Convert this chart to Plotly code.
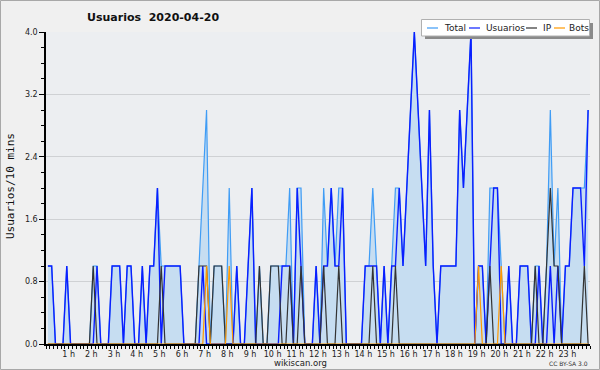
import plotly.graph_objects as go

# 10-minute slots, 0..143
total = [1,1,0,0,0,1, 0,0,0,0,0,0, 1,1,0,0,0,1, 1,1,0,1,1,0,
         0,1,0,1,1,2, 1,1,1,1,1,1, 0,0,0,0,1,2, 3,0,1,1,1,0,
         2,0,1,0,0,1, 2,0,1,0,0,1, 1,1,1,1,2,0, 2,2,0,0,0,1,
         0,2,1,2,1,2, 2,0,0,0,0,0, 1,1,2,1,0,1, 0,1,2,2,1,2,
         3,4,3,2,1,3, 1,0,1,1,1,1, 1,3,2,3,4,0, 1,1,0,2,2,2,
         1,0,1,0,0,1, 1,1,0,1,1,0, 1,3,1,2,0,1, 1,2,2,2,2,3]
usuarios = [1,1,0,0,0,1, 0,0,0,0,0,0, 0,1,0,0,0,1, 1,1,0,1,1,0,
            0,1,0,1,1,2, 0,1,1,1,1,1, 0,0,0,0,0,1, 0,0,0,0,0,0,
            0,0,1,0,0,1, 2,0,0,0,0,0, 0,0,1,1,1,0, 2,1,0,0,0,1,
            0,1,1,2,1,1, 2,0,0,0,0,0, 1,1,1,1,0,1, 0,1,1,2,1,2,
            3,4,3,2,1,3, 1,0,1,1,1,1, 1,3,2,3,4,0, 1,1,0,1,2,2,
            0,0,1,0,0,1, 1,1,0,0,1,0, 0,1,0,1,0,1, 1,2,2,2,1,3]
ip = [0,0,0,0,0,0, 0,0,0,0,0,0, 1,0,0,0,0,0, 0,0,0,0,0,0,
      0,0,0,0,0,0, 1,0,0,0,0,0, 0,0,0,0,1,1, 1,0,1,1,1,0,
      0,0,0,0,0,0, 0,0,1,0,0,1, 1,1,0,0,1,0, 0,1,0,0,0,0,
      0,1,0,0,0,1, 0,0,0,0,0,0, 0,0,1,0,0,0, 0,0,1,0,0,0,
      0,0,0,0,0,0, 0,0,0,0,0,0, 0,0,0,0,0,0, 0,0,0,1,0,0,
      0,0,0,0,0,0, 0,0,0,1,0,0, 1,2,1,1,0,0, 0,0,0,0,1,0]
bots = [0]*144
for k in (42, 48, 114, 120):
    bots[k] = 1

hours = list(range(1, 24))
hour_labels = [f"{h} h" for h in hours]
y_ticks = [0, 0.8, 1.6, 2.4, 3.2, 4.0]
legend_names = ["Total", "Usuarios", "IP", "Bots"]

C_TOTAL = "#3f9cf5"
C_FILL = "#c6ddf1"
C_USER = "#0a1eff"
C_IP = "#333333"
C_BOTS = "#ff9900"

x = list(range(144))
fig = go.Figure()
fig.add_trace(go.Scatter(x=x, y=total, mode="lines", fill="tozeroy",
                         line=dict(color=C_TOTAL, width=1.2), fillcolor=C_FILL,
                         name="Total", hoverinfo="skip"))
fig.add_trace(go.Scatter(x=x, y=usuarios, mode="lines", line=dict(color=C_USER, width=1.4),
                         name="Usuarios"))
fig.add_trace(go.Scatter(x=x, y=ip, mode="lines", line=dict(color=C_IP, width=1.2),
                         name="IP"))
fig.add_trace(go.Scatter(x=x, y=bots, mode="lines", line=dict(color=C_BOTS, width=1.2),
                         name="Bots"))

L, R, T, B = 46, 10, 32, 26
W, H = 600, 370
pw, ph = W - L - R, H - T - B
def px(xp): return (xp - L) / pw
def py(yp): return (H - B - yp) / ph

shapes = []
annotations = []
# outer border
shapes.append(dict(type="rect", xref="paper", yref="paper", x0=px(0.5), x1=px(599.5),
                   y0=py(369.5), y1=py(0.5), line=dict(color="#a8a8a8", width=1),
                   layer="below"))
# legend shadow + box
shapes.append(dict(type="rect", xref="paper", yref="paper", x0=px(425), x1=px(593),
                   y0=py(39), y1=py(23), line=dict(width=0), fillcolor="#8a8a8a"))
shapes.append(dict(type="rect", xref="paper", yref="paper", x0=px(421.5), x1=px(589.5),
                   y0=py(36), y1=py(19.5), line=dict(color="#b0b0b0", width=1),
                   fillcolor="#ffffff"))
leg_items = [(legend_names[0], C_TOTAL, 427, 442), (legend_names[1], C_USER, 469, 484),
             (legend_names[2], C_IP, 526, 541), (legend_names[3], C_BOTS, 554, 567)]
for name, col, lx, tx in leg_items:
    shapes.append(dict(type="line", xref="paper", yref="paper", x0=px(lx), x1=px(lx + 11),
                       y0=py(28), y1=py(28), line=dict(color=col, width=1.2)))
    annotations.append(dict(text=name, xref="paper", yref="paper", x=px(tx), y=py(28),
                            xanchor="left", yanchor="middle", showarrow=False,
                            font=dict(family="DejaVu Sans", size=9, color="#222")))

annotations += [
    dict(text="<b>Usuarios  2020-04-20</b>", xref="paper", yref="paper", x=px(85), y=py(18),
         xanchor="left", yanchor="middle", showarrow=False,
         font=dict(family="DejaVu Sans", size=11, color="#111")),
    dict(text="Usuarios/10 mins", xref="paper", yref="paper", x=px(10), y=py(186),
         xanchor="center", yanchor="middle", textangle=-90, showarrow=False,
         font=dict(family="DejaVu Sans Mono", size=11, color="#111")),
    dict(text="wikiscan.org", xref="paper", yref="paper", x=px(300), y=py(362.5),
         xanchor="center", yanchor="middle", showarrow=False,
         font=dict(family="DejaVu Sans", size=8.5, color="#222")),
    dict(text="CC BY-SA 3.0", xref="paper", yref="paper", x=px(590), y=py(363.5),
         xanchor="right", yanchor="middle", showarrow=False,
         font=dict(family="DejaVu Sans", size=6, color="#333")),
]

fig.update_layout(
    width=W, height=H, margin=dict(l=L, r=R, t=T, b=B),
    paper_bgcolor="#f0f0f0", plot_bgcolor="#eceef1",
    showlegend=False, shapes=shapes, annotations=annotations,
    xaxis=dict(range=[-0.5, 143.5], tickvals=[6 * h - 0.5 for h in hours], ticktext=hour_labels,
               ticks="outside", ticklen=2, tickcolor="#000", showgrid=False, zeroline=False,
               showline=True, linecolor="#000", linewidth=1.5,
               tickfont=dict(family="DejaVu Sans", size=8, color="#222"),
               minor=dict(dtick=1, tick0=-0.5, ticks="outside", ticklen=3, tickcolor="#000",
                          showgrid=False)),
    yaxis=dict(range=[0, 4], tickvals=y_ticks, ticktext=[f"{v:.1f}" for v in y_ticks],
               ticks="outside", ticklen=5, tickcolor="#000", showgrid=True,
               gridcolor="#cfd1d4", gridwidth=1, zeroline=False,
               showline=True, linecolor="#000", linewidth=1.5,
               tickfont=dict(family="DejaVu Sans", size=8, color="#222"),
               minor=dict(dtick=0.2, ticks="outside", ticklen=3, tickcolor="#000",
                          showgrid=False)),
)
fig.write_html("out.html", config={"displayModeBar": False},
               post_script="document.body.style.margin='0';")
